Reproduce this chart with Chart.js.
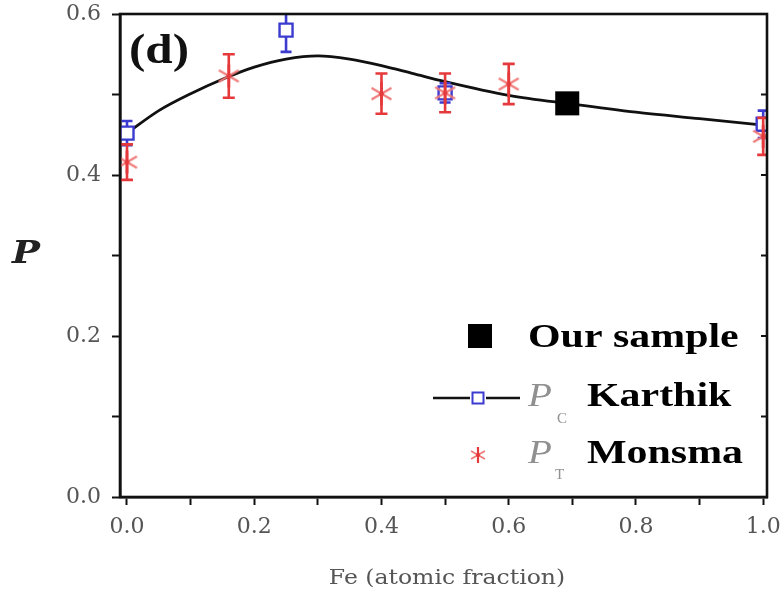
<!DOCTYPE html>
<html>
<head>
<meta charset="utf-8">
<script src="https://cdn.jsdelivr.net/npm/chart.js@4.4.1/dist/chart.umd.min.js"></script>
<style>
  html, body { margin: 0; padding: 0; background: #ffffff; }
  #wrap { width: 780px; height: 591px; }
</style>
</head>
<body>
<div id="wrap"><canvas id="c" width="780" height="591"></canvas></div>
<script>
// Spin polarization P versus Fe atomic fraction

// Smooth guide curve through the P_C values
const curveFe = [0, 0.05, 0.1, 0.15, 0.2, 0.25, 0.3, 0.35, 0.4, 0.45, 0.5, 0.6, 0.7, 0.8, 0.9, 1.0];
const curveP  = [0.452, 0.480, 0.501, 0.519, 0.534, 0.544, 0.548, 0.544, 0.536, 0.526, 0.516, 0.499, 0.488, 0.478, 0.470, 0.462];

// P_C (Karthik)
const karthikFe  = [0, 0.25, 0.5, 1.0];
const karthikP   = [0.452, 0.580, 0.502, 0.463];
const karthikErr = [0.015, 0.027, 0.012, 0.017];

// P_T (Monsma)
const monsmaFe  = [0, 0.16, 0.4, 0.5, 0.6, 1.0];
const monsmaP   = [0.416, 0.523, 0.501, 0.502, 0.513, 0.448];
const monsmaErr = [0.022, 0.027, 0.025, 0.024, 0.025, 0.023];

// Our sample
const sampleFe = [0.692];
const sampleP  = [0.489];

// Axis ticks
const xTickStep = 0.1;
const yTickStep = 0.1;

const BLUE = '#3b3bd0';
const RED = '#e5393b';
const PINK = '#f07a7a';

function pts(xs, ys) { return xs.map((x, i) => ({ x: x, y: ys[i] })); }

// six-armed asterisk marker
function makeAsterisk(r, lw) {
  const s = Math.ceil(2 * r + 4);
  const cv = document.createElement('canvas');
  cv.width = s; cv.height = s;
  const g = cv.getContext('2d');
  const c = s / 2;
  g.lineCap = 'butt';
  g.strokeStyle = PINK; g.lineWidth = lw * 0.8;
  const a = Math.PI / 6;
  const dx = r * Math.cos(a), dy = r * Math.sin(a);
  g.beginPath();
  g.moveTo(c - dx, c - dy); g.lineTo(c + dx, c + dy);
  g.moveTo(c - dx, c + dy); g.lineTo(c + dx, c - dy);
  g.stroke();
  g.strokeStyle = RED; g.lineWidth = lw;
  g.beginPath(); g.moveTo(c, c - r); g.lineTo(c, c + r); g.stroke();
  g.fillStyle = RED;
  g.beginPath(); g.arc(c, c, lw * 0.9, 0, Math.PI * 2); g.fill();
  return cv;
}
const asteriskMark = makeAsterisk(11.5, 2.6);
const asteriskSmall = makeAsterisk(8, 2.2);

// error bars, drawn right before each dataset's markers
const errorBarPlugin = {
  id: 'errorBars',
  beforeDatasetDraw(chart, args) {
    const ds = chart.data.datasets[args.index];
    if (!ds.errorBars) return;
    const meta = chart.getDatasetMeta(args.index);
    const ys = chart.scales.y;
    const ctx = chart.ctx;
    ctx.save();
    ctx.beginPath();
    ctx.rect(chart.chartArea.left, chart.chartArea.top - 1, chart.chartArea.right - chart.chartArea.left, chart.chartArea.bottom - chart.chartArea.top + 2);
    ctx.clip();
    ctx.strokeStyle = ds.errorColor;
    ctx.lineWidth = 2.6;
    const cap = ds.capHalf;
    meta.data.forEach((el, i) => {
      const v = ds.data[i].y, e = ds.errorBars[i];
      const yt = ys.getPixelForValue(v + e), yb = ys.getPixelForValue(v - e);
      ctx.beginPath();
      ctx.moveTo(el.x, yt); ctx.lineTo(el.x, yb);
      ctx.moveTo(el.x - cap, yt); ctx.lineTo(el.x + cap, yt);
      ctx.moveTo(el.x - cap, yb); ctx.lineTo(el.x + cap, yb);
      ctx.stroke();
    });
    ctx.restore();
  }
};

function wideText(ctx, str, x, y, sx) {
  ctx.save();
  ctx.translate(x, y);
  ctx.scale(sx, 1);
  ctx.fillText(str, 0, 0);
  ctx.restore();
}

// frame, right-side ticks, labels and legend
const decorPlugin = {
  id: 'decor',
  afterDraw(chart) {
    const ctx = chart.ctx;
    const a = chart.chartArea;
    const ys = chart.scales.y;
    ctx.save();
    // frame
    ctx.strokeStyle = '#111';
    ctx.lineWidth = 2.6;
    ctx.strokeRect(a.left, a.top, a.right - a.left, a.bottom - a.top);
    // right-hand ticks
    ctx.lineWidth = 2;
    for (let k = 1; k < 6; k++) {
      const yp = ys.getPixelForValue(k * yTickStep);
      ctx.beginPath(); ctx.moveTo(a.right - 6, yp); ctx.lineTo(a.right, yp); ctx.stroke();
    }

    // panel tag
    ctx.fillStyle = '#111';
    ctx.textBaseline = 'alphabetic';
    ctx.textAlign = 'left';
    ctx.font = 'bold 42px "Liberation Serif"';
    wideText(ctx, '(d)', 129, 63, 1.17);

    // y-axis symbol
    ctx.fillStyle = '#222';
    ctx.font = 'bold italic 31px "DejaVu Serif"';
    wideText(ctx, 'P', 12, 263, 1.2);

    // x-axis title
    ctx.fillStyle = '#555';
    ctx.font = '21px "DejaVu Serif"';
    ctx.textAlign = 'left';
    const tw = ctx.measureText('Fe (atomic fraction)').width * 1.12;
    wideText(ctx, 'Fe (atomic fraction)', 447 - tw / 2, 584, 1.12);

    // legend: our sample
    ctx.fillStyle = '#000';
    ctx.fillRect(468, 324, 24, 24);
    ctx.font = 'bold 33px "Liberation Serif"';
    wideText(ctx, 'Our sample', 528, 347, 1.27);

    // legend: P_C Karthik
    ctx.strokeStyle = '#111';
    ctx.lineWidth = 2.6;
    ctx.beginPath();
    ctx.moveTo(433, 398); ctx.lineTo(470, 398);
    ctx.moveTo(486, 398); ctx.lineTo(520, 398);
    ctx.stroke();
    ctx.strokeStyle = BLUE;
    ctx.lineWidth = 2;
    ctx.strokeRect(472.5, 392.5, 11, 11);
    ctx.fillStyle = '#909090';
    ctx.font = 'italic 34px "Liberation Serif"';
    wideText(ctx, 'P', 528, 406, 1.15);
    ctx.font = '15px "Liberation Serif"';
    ctx.fillText('C', 557, 423);
    ctx.fillStyle = '#000';
    ctx.font = 'bold 33px "Liberation Serif"';
    wideText(ctx, 'Karthik', 587, 406, 1.27);

    // legend: P_T Monsma
    ctx.drawImage(asteriskSmall, 478 - asteriskSmall.width / 2, 455 - asteriskSmall.height / 2);
    ctx.fillStyle = '#909090';
    ctx.font = 'italic 34px "Liberation Serif"';
    wideText(ctx, 'P', 528, 463, 1.15);
    ctx.font = '15px "Liberation Serif"';
    ctx.fillText('T', 555, 479);
    ctx.fillStyle = '#000';
    ctx.font = 'bold 33px "Liberation Serif"';
    wideText(ctx, 'Monsma', 587, 463, 1.27);
    ctx.restore();
  }
};

const tickFont = { family: 'DejaVu Serif', size: 22 };

new Chart(document.getElementById('c'), {
  type: 'scatter',
  data: {
    datasets: [
      {
        label: 'Our sample',
        data: pts(sampleFe, sampleP),
        pointStyle: 'rect',
        pointRadius: 17,
        pointHoverRadius: 17,
        backgroundColor: '#000',
        borderColor: '#000',
        borderWidth: 0
      },
      {
        label: 'P_T Monsma',
        data: pts(monsmaFe, monsmaP),
        pointStyle: asteriskMark,
        pointRadius: 11,
        errorBars: monsmaErr,
        errorColor: RED,
        capHalf: 6
      },
      {
        label: 'P_C Karthik',
        data: pts(karthikFe, karthikP),
        pointStyle: 'rect',
        pointRadius: 9.2,
        pointHoverRadius: 9.2,
        backgroundColor: '#ffffff',
        borderColor: BLUE,
        borderWidth: 2.4,
        errorBars: karthikErr,
        errorColor: BLUE,
        capHalf: 5.5
      },
      {
        label: 'curve',
        type: 'line',
        data: pts(curveFe, curveP),
        borderColor: '#111',
        borderWidth: 2.8,
        pointRadius: 0,
        fill: false,
        cubicInterpolationMode: 'monotone'
      }
    ]
  },
  options: {
    responsive: false,
    devicePixelRatio: 1,
    animation: false,
    events: [],
    layout: { autoPadding: false, padding: { top: 14, right: 13, left: 0, bottom: 0 } },
    plugins: {
      legend: { display: false },
      tooltip: { enabled: false }
    },
    scales: {
      x: {
        type: 'linear',
        min: -0.011,
        max: 1.006,
        afterFit(s) { s.height = 94; s.paddingLeft = 0; s.paddingRight = 0; },
        border: { display: true, color: '#111', width: 2.6 },
        grid: { drawOnChartArea: false, drawTicks: true, tickLength: 8, tickWidth: 2, tickColor: '#111' },
        ticks: {
          stepSize: xTickStep,
          includeBounds: false,
          autoSkip: false,
          maxRotation: 0,
          padding: 9,
          color: '#555',
          font: tickFont,
          callback(v) {
            const k = Math.round(v * 10);
            return k % 2 === 0 ? (k / 10).toFixed(1) : '';
          }
        }
      },
      y: {
        type: 'linear',
        min: 0,
        max: 0.6,
        afterFit(s) { s.width = 120; s.paddingTop = 0; s.paddingBottom = 0; },
        border: { display: true, color: '#111', width: 2.6 },
        grid: { drawOnChartArea: false, drawTicks: true, tickLength: 8, tickWidth: 2, tickColor: '#111' },
        ticks: {
          stepSize: yTickStep,
          includeBounds: false,
          autoSkip: false,
          padding: 11,
          color: '#555',
          font: tickFont,
          callback(v) {
            const k = Math.round(v * 10);
            return k % 2 === 0 ? (k / 10).toFixed(1) : '';
          }
        }
      }
    }
  },
  plugins: [errorBarPlugin, decorPlugin]
});
</script>
</body>
</html>
